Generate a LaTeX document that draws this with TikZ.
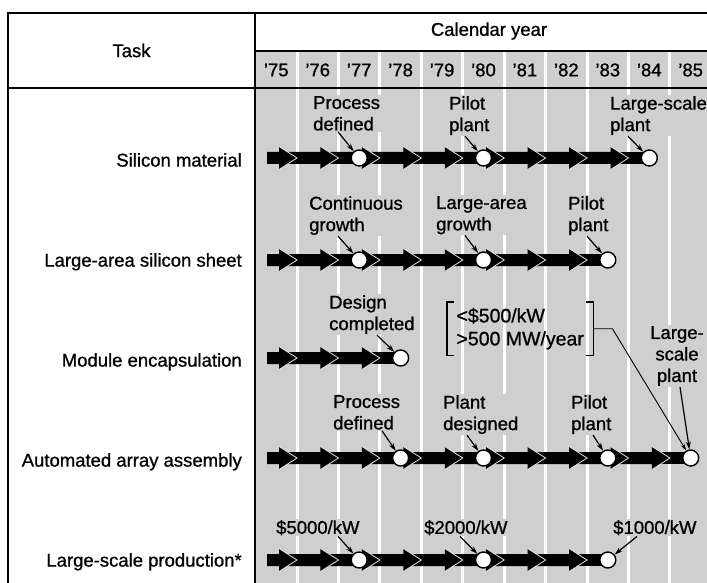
\documentclass[tikz,border=0pt]{standalone}
\usepackage{fontspec}
\setmainfont{Liberation Sans}[UprightFeatures={FakeBold=0.9}]
\usetikzlibrary{arrows.meta,calc}
\definecolor{bgc}{gray}{0.81}
\definecolor{chevc}{gray}{0.90}

% #1 row y, #2 number of arrow heads, #3 end x
\newcommand{\taskchain}[3]{%
  \pgfmathsetmacro{\bn}{255.56+41.44*#2}
  \fill[black] (\bn-10,#1-6) rectangle (#3,#1+6);
  \foreach \k in {#2,...,1}{
    \pgfmathsetmacro{\tip}{255.56+41.44*\k}
    \pgfmathsetmacro{\st}{ifthenelse(\k==1,267,255.56+41.44*(\k-1)-10)}
    \fill[black] (\st,#1-6) -- (\tip-18,#1-6) -- (\tip-18,#1-11.5) -- (\tip,#1)
      -- (\tip-18,#1+11.5) -- (\tip-18,#1+6) -- (\st,#1+6) -- cycle;
    \draw[chev] (\tip-18,#1-11.5) -- (\tip,#1) -- (\tip-18,#1+11.5);
  }
}

\begin{document}
\begin{tikzpicture}[x=1pt,y=-1pt,
  every node/.style={font={\fontsize{18.5}{21.5}\selectfont}, inner sep=1pt},
  chev/.style={draw=chevc, line width=0.8pt},
  milestone/.style={circle, draw=black, fill=white, line width=1.4pt, minimum size=16pt, inner sep=0pt},
  lab/.style={anchor=north west, align=left, fill=bgc},
  task/.style={anchor=base east},
  leader/.style={line width=1.2pt, -{Stealth[length=8pt,width=5pt]}},
  conn/.style={line width=0.9pt, -{Stealth[length=7pt,width=4pt]}},
  frame/.style={line width=1.5pt}]
\useasboundingbox (0,0) rectangle (707,583);
\fill[white] (0,0) rectangle (707,583);

% shaded year area with white stripes
\fill[bgc] (255,51) rectangle (707,583);
\foreach \k in {1,...,10}{
  \draw[white, line width=3pt] ({255.56+41.44*\k},51) -- ({255.56+41.44*\k},583);
}

% frame lines
\draw[frame] (8,583) -- (8,13) -- (707,13);
\draw[frame] (255,13) -- (255,583);
\draw[line width=1.2pt] (255,51) -- (707,51);
\draw[line width=2.5pt] (8,88) -- (707,88);

% header
\node (task) at (131.5,50.5) {Task};
\node (cal) at (489,31) {Calendar year};
\foreach \j/\yr in {0/75,1/76,2/77,3/78,4/79,5/80,6/81,7/82,8/83,9/84,10/85}{
  \node (yr\yr) at ({255.56+41.44*(\j+0.5)},70) {'\yr};
}

% task names
\node[task] (t1) at (243,166.6) {Silicon material};
\node[task] (t2) at (243,266.6) {Large-area silicon sheet};
\node[task] (t3) at (243,366.6) {Module encapsulation};
\node[task] (t4) at (243,466.6) {Automated array assembly};
\node[task] (t5) at (243,566.6) {Large-scale production*};

% arrow chains
\taskchain{158}{9}{649.3}
\taskchain{260}{8}{607.8}
\taskchain{358}{3}{400.6}
\taskchain{458}{10}{690.7}
\taskchain{560}{8}{607.8}

% milestones
\node[milestone] (c11) at (359.2,158) {};
\node[milestone] (c12) at (483.5,158) {};
\node[milestone] (c13) at (649.3,158) {};
\node[milestone] (c21) at (359.2,260) {};
\node[milestone] (c22) at (483.5,260) {};
\node[milestone] (c23) at (607.8,260) {};
\node[milestone] (c31) at (400.6,358) {};
\node[milestone] (c41) at (400.6,458) {};
\node[milestone] (c42) at (483.5,458) {};
\node[milestone] (c43) at (607.8,458) {};
\node[milestone] (c54) at (690.7,458) {};
\node[milestone] (c51) at (359.2,560) {};
\node[milestone] (c52) at (483.5,560) {};
\node[milestone] (c53) at (607.8,560) {};

% milestone labels
\node[lab] (l11) at (312,95) {Process\\defined};
\node[lab] (l12) at (448,95) {Pilot\\plant};
\node[lab] (l13) at (609,95) {Large-scale\\plant};
\node[lab] (l21) at (308,195) {Continuous\\growth};
\node[lab] (l22) at (435,195) {Large-area\\growth};
\node[lab] (l23) at (567,195) {Pilot\\plant};
\node[lab] (l31) at (328,294) {Design\\completed};
\node[lab] (l41) at (332,394) {Process\\defined};
\node[lab] (l42) at (442,394) {Plant\\designed};
\node[lab] (l43) at (570,394) {Pilot\\plant};
\node[anchor=north, align=center, fill=bgc] (l54) at (677,325) {Large-\\scale\\plant};
\node[lab] (l51) at (275,519) {\$5000/kW};
\node[lab] (l52) at (423,519) {\$2000/kW};
\node[lab] (l53) at (612,519) {\$1000/kW};

% leaders
\draw[leader] ([xshift=26pt]l11.south west) -- (c11);
\draw[leader] ([xshift=17pt]l12.south west) -- (c12);
\draw[leader] ([xshift=19pt]l13.south west) -- (c13);
\draw[leader] ([xshift=30pt]l21.south west) -- (c21);
\draw[leader] ([xshift=30pt]l22.south west) -- (c22);
\draw[leader] ([xshift=20pt]l23.south west) -- (c23);
\draw[leader] ([xshift=49pt]l31.south west) -- (c31);
\draw[leader] ([xshift=50pt]l41.south west) -- (c41);
\draw[leader] ([xshift=25pt]l42.south west) -- (c42);
\draw[leader] ([xshift=23pt]l43.south west) -- (c43);
\draw[leader] ([xshift=3pt]l54.south) -- (c54);
\draw[leader] ([xshift=63pt]l51.south west) -- (c51);
\draw[leader] ([xshift=37pt]l52.south west) -- (c52);
\draw[leader] ([xshift=25pt]l53.south west) -- (c53);

% bracketed target
\node[anchor=north west, align=left, minimum width=146pt, minimum height=53pt,
  font={\fontsize{19.5}{23}\selectfont}] (brk) at (447,302) {<\$500/kW\\>500 MW/year};
\draw[line width=1.2pt] ([xshift=7pt]brk.north west) -- (brk.north west) -- (brk.south west) -- ([xshift=7pt]brk.south west);
\draw[line width=1.2pt] ([xshift=-7pt]brk.north east) -- (brk.north east) -- (brk.south east) -- ([xshift=-7pt]brk.south east);
\draw[conn] (brk.east) -- ++(19,0) -- (c54);
\end{tikzpicture}
\end{document}
